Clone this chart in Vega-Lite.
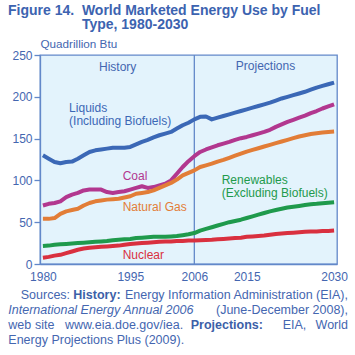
{
  "$schema": "https://vega.github.io/schema/vega-lite/v6.json",
  "width": 297,
  "height": 209,
  "autosize": {"type": "none"},
  "padding": {"left": 40, "top": 55, "right": 18, "bottom": 91},
  "background": "white",
  "title": {
    "text": ["Figure 14.\u00a0\u00a0World Marketed Energy Use by Fuel", "\u200b\u00a0\u00a0\u00a0\u00a0\u00a0\u00a0\u00a0\u00a0\u00a0\u00a0\u00a0\u00a0\u00a0\u00a0\u00a0\u00a0\u00a0\u00a0\u00a0Type, 1980-2030"],
    "anchor": "start",
    "frame": "group",
    "dx": -32,
    "offset": 6,
    "font": "Liberation Sans",
    "fontSize": 14,
    "fontWeight": "bold",
    "color": "#3c63b0",
    "lineHeight": 14.5
  },
  "config": {
    "font": "Liberation Sans",
    "view": {"fill": "#e3f3fc", "stroke": "#6288c9", "strokeWidth": 1.3},
    "axis": {
      "domainColor": "#6288c9",
      "domainWidth": 1.3,
      "tickColor": "#6288c9",
      "tickWidth": 1.3,
      "labelColor": "#4466b0",
      "titleColor": "#4466b0",
      "labelFont": "Liberation Sans",
      "titleFont": "Liberation Sans",
      "labelFontSize": 12,
      "grid": false
    }
  },
  "datasets": {
    "energy": [
      {"fuel":"Liquids","year":1980,"value":130},{"fuel":"Liquids","year":1981,"value":126},{"fuel":"Liquids","year":1982,"value":122},{"fuel":"Liquids","year":1983,"value":120.5},{"fuel":"Liquids","year":1984,"value":122},{"fuel":"Liquids","year":1985,"value":122.5},{"fuel":"Liquids","year":1986,"value":126},{"fuel":"Liquids","year":1987,"value":130},{"fuel":"Liquids","year":1988,"value":134},{"fuel":"Liquids","year":1989,"value":136},{"fuel":"Liquids","year":1990,"value":137},{"fuel":"Liquids","year":1991,"value":138},{"fuel":"Liquids","year":1992,"value":139},{"fuel":"Liquids","year":1993,"value":139},{"fuel":"Liquids","year":1994,"value":139},{"fuel":"Liquids","year":1995,"value":140},{"fuel":"Liquids","year":1996,"value":143},{"fuel":"Liquids","year":1997,"value":146},{"fuel":"Liquids","year":1998,"value":148.5},{"fuel":"Liquids","year":1999,"value":151.5},{"fuel":"Liquids","year":2000,"value":154},{"fuel":"Liquids","year":2001,"value":156},{"fuel":"Liquids","year":2002,"value":158},{"fuel":"Liquids","year":2003,"value":162},{"fuel":"Liquids","year":2004,"value":166},{"fuel":"Liquids","year":2005,"value":169},{"fuel":"Liquids","year":2006,"value":173},{"fuel":"Liquids","year":2007,"value":176},{"fuel":"Liquids","year":2008,"value":176.5},{"fuel":"Liquids","year":2009,"value":173},{"fuel":"Liquids","year":2010,"value":175},{"fuel":"Liquids","year":2011,"value":177},{"fuel":"Liquids","year":2012,"value":179},{"fuel":"Liquids","year":2013,"value":181},{"fuel":"Liquids","year":2014,"value":183},{"fuel":"Liquids","year":2015,"value":185},{"fuel":"Liquids","year":2016,"value":187},{"fuel":"Liquids","year":2017,"value":189},{"fuel":"Liquids","year":2018,"value":191},{"fuel":"Liquids","year":2019,"value":193},{"fuel":"Liquids","year":2020,"value":195.5},{"fuel":"Liquids","year":2021,"value":198},{"fuel":"Liquids","year":2022,"value":200},{"fuel":"Liquids","year":2023,"value":202},{"fuel":"Liquids","year":2024,"value":204},{"fuel":"Liquids","year":2025,"value":206},{"fuel":"Liquids","year":2026,"value":208.5},{"fuel":"Liquids","year":2027,"value":211},{"fuel":"Liquids","year":2028,"value":213},{"fuel":"Liquids","year":2029,"value":215},{"fuel":"Liquids","year":2030,"value":217},
      {"fuel":"Coal","year":1980,"value":70},{"fuel":"Coal","year":1981,"value":72},{"fuel":"Coal","year":1982,"value":73},{"fuel":"Coal","year":1983,"value":75},{"fuel":"Coal","year":1984,"value":80},{"fuel":"Coal","year":1985,"value":83},{"fuel":"Coal","year":1986,"value":85},{"fuel":"Coal","year":1987,"value":88},{"fuel":"Coal","year":1988,"value":89},{"fuel":"Coal","year":1989,"value":89},{"fuel":"Coal","year":1990,"value":89},{"fuel":"Coal","year":1991,"value":86},{"fuel":"Coal","year":1992,"value":85},{"fuel":"Coal","year":1993,"value":86},{"fuel":"Coal","year":1994,"value":87},{"fuel":"Coal","year":1995,"value":89},{"fuel":"Coal","year":1996,"value":91},{"fuel":"Coal","year":1997,"value":93},{"fuel":"Coal","year":1998,"value":91},{"fuel":"Coal","year":1999,"value":92},{"fuel":"Coal","year":2000,"value":94},{"fuel":"Coal","year":2001,"value":96},{"fuel":"Coal","year":2002,"value":100},{"fuel":"Coal","year":2003,"value":108},{"fuel":"Coal","year":2004,"value":116},{"fuel":"Coal","year":2005,"value":123},{"fuel":"Coal","year":2006,"value":129},{"fuel":"Coal","year":2007,"value":134},{"fuel":"Coal","year":2008,"value":137},{"fuel":"Coal","year":2009,"value":139.5},{"fuel":"Coal","year":2010,"value":142},{"fuel":"Coal","year":2011,"value":144},{"fuel":"Coal","year":2012,"value":146},{"fuel":"Coal","year":2013,"value":148.5},{"fuel":"Coal","year":2014,"value":150.5},{"fuel":"Coal","year":2015,"value":152},{"fuel":"Coal","year":2016,"value":154},{"fuel":"Coal","year":2017,"value":156},{"fuel":"Coal","year":2018,"value":158},{"fuel":"Coal","year":2019,"value":160.5},{"fuel":"Coal","year":2020,"value":164},{"fuel":"Coal","year":2021,"value":167},{"fuel":"Coal","year":2022,"value":170},{"fuel":"Coal","year":2023,"value":172.5},{"fuel":"Coal","year":2024,"value":175},{"fuel":"Coal","year":2025,"value":177.5},{"fuel":"Coal","year":2026,"value":180.5},{"fuel":"Coal","year":2027,"value":183},{"fuel":"Coal","year":2028,"value":186},{"fuel":"Coal","year":2029,"value":188.5},{"fuel":"Coal","year":2030,"value":191},
      {"fuel":"Natural Gas","year":1980,"value":54},{"fuel":"Natural Gas","year":1981,"value":54},{"fuel":"Natural Gas","year":1982,"value":55},{"fuel":"Natural Gas","year":1983,"value":60},{"fuel":"Natural Gas","year":1984,"value":63},{"fuel":"Natural Gas","year":1985,"value":64.5},{"fuel":"Natural Gas","year":1986,"value":66},{"fuel":"Natural Gas","year":1987,"value":70},{"fuel":"Natural Gas","year":1988,"value":73},{"fuel":"Natural Gas","year":1989,"value":75},{"fuel":"Natural Gas","year":1990,"value":76},{"fuel":"Natural Gas","year":1991,"value":77},{"fuel":"Natural Gas","year":1992,"value":77.5},{"fuel":"Natural Gas","year":1993,"value":78},{"fuel":"Natural Gas","year":1994,"value":79.5},{"fuel":"Natural Gas","year":1995,"value":81},{"fuel":"Natural Gas","year":1996,"value":84},{"fuel":"Natural Gas","year":1997,"value":85},{"fuel":"Natural Gas","year":1998,"value":86},{"fuel":"Natural Gas","year":1999,"value":88},{"fuel":"Natural Gas","year":2000,"value":91},{"fuel":"Natural Gas","year":2001,"value":94},{"fuel":"Natural Gas","year":2002,"value":97},{"fuel":"Natural Gas","year":2003,"value":101},{"fuel":"Natural Gas","year":2004,"value":106},{"fuel":"Natural Gas","year":2005,"value":109},{"fuel":"Natural Gas","year":2006,"value":112},{"fuel":"Natural Gas","year":2007,"value":116},{"fuel":"Natural Gas","year":2008,"value":118},{"fuel":"Natural Gas","year":2009,"value":120},{"fuel":"Natural Gas","year":2010,"value":122.5},{"fuel":"Natural Gas","year":2011,"value":124.5},{"fuel":"Natural Gas","year":2012,"value":127},{"fuel":"Natural Gas","year":2013,"value":129.5},{"fuel":"Natural Gas","year":2014,"value":132},{"fuel":"Natural Gas","year":2015,"value":134.5},{"fuel":"Natural Gas","year":2016,"value":136.5},{"fuel":"Natural Gas","year":2017,"value":138.5},{"fuel":"Natural Gas","year":2018,"value":140.5},{"fuel":"Natural Gas","year":2019,"value":142.5},{"fuel":"Natural Gas","year":2020,"value":144.5},{"fuel":"Natural Gas","year":2021,"value":146.5},{"fuel":"Natural Gas","year":2022,"value":148.5},{"fuel":"Natural Gas","year":2023,"value":150.5},{"fuel":"Natural Gas","year":2024,"value":152.5},{"fuel":"Natural Gas","year":2025,"value":154},{"fuel":"Natural Gas","year":2026,"value":155.5},{"fuel":"Natural Gas","year":2027,"value":156.5},{"fuel":"Natural Gas","year":2028,"value":157.3},{"fuel":"Natural Gas","year":2029,"value":158},{"fuel":"Natural Gas","year":2030,"value":158.5},
      {"fuel":"Renewables","year":1980,"value":21.5},{"fuel":"Renewables","year":1981,"value":22},{"fuel":"Renewables","year":1982,"value":23},{"fuel":"Renewables","year":1983,"value":23.5},{"fuel":"Renewables","year":1984,"value":24},{"fuel":"Renewables","year":1985,"value":24.5},{"fuel":"Renewables","year":1986,"value":25},{"fuel":"Renewables","year":1987,"value":25.5},{"fuel":"Renewables","year":1988,"value":26},{"fuel":"Renewables","year":1989,"value":26.5},{"fuel":"Renewables","year":1990,"value":27},{"fuel":"Renewables","year":1991,"value":27.5},{"fuel":"Renewables","year":1992,"value":28.5},{"fuel":"Renewables","year":1993,"value":29},{"fuel":"Renewables","year":1994,"value":29.5},{"fuel":"Renewables","year":1995,"value":30},{"fuel":"Renewables","year":1996,"value":31},{"fuel":"Renewables","year":1997,"value":31.5},{"fuel":"Renewables","year":1998,"value":32},{"fuel":"Renewables","year":1999,"value":32.5},{"fuel":"Renewables","year":2000,"value":32.5},{"fuel":"Renewables","year":2001,"value":32.5},{"fuel":"Renewables","year":2002,"value":33},{"fuel":"Renewables","year":2003,"value":33.5},{"fuel":"Renewables","year":2004,"value":34.5},{"fuel":"Renewables","year":2005,"value":35.5},{"fuel":"Renewables","year":2006,"value":37},{"fuel":"Renewables","year":2007,"value":40},{"fuel":"Renewables","year":2008,"value":42},{"fuel":"Renewables","year":2009,"value":44},{"fuel":"Renewables","year":2010,"value":46},{"fuel":"Renewables","year":2011,"value":48},{"fuel":"Renewables","year":2012,"value":50},{"fuel":"Renewables","year":2013,"value":51.5},{"fuel":"Renewables","year":2014,"value":53},{"fuel":"Renewables","year":2015,"value":55},{"fuel":"Renewables","year":2016,"value":57},{"fuel":"Renewables","year":2017,"value":59},{"fuel":"Renewables","year":2018,"value":61},{"fuel":"Renewables","year":2019,"value":63},{"fuel":"Renewables","year":2020,"value":64.5},{"fuel":"Renewables","year":2021,"value":66},{"fuel":"Renewables","year":2022,"value":67.5},{"fuel":"Renewables","year":2023,"value":68.5},{"fuel":"Renewables","year":2024,"value":69.5},{"fuel":"Renewables","year":2025,"value":70.5},{"fuel":"Renewables","year":2026,"value":71.5},{"fuel":"Renewables","year":2027,"value":72},{"fuel":"Renewables","year":2028,"value":72.8},{"fuel":"Renewables","year":2029,"value":73.4},{"fuel":"Renewables","year":2030,"value":74},
      {"fuel":"Nuclear","year":1980,"value":7.5},{"fuel":"Nuclear","year":1981,"value":8.5},{"fuel":"Nuclear","year":1982,"value":10},{"fuel":"Nuclear","year":1983,"value":11},{"fuel":"Nuclear","year":1984,"value":13},{"fuel":"Nuclear","year":1985,"value":15},{"fuel":"Nuclear","year":1986,"value":17},{"fuel":"Nuclear","year":1987,"value":18.5},{"fuel":"Nuclear","year":1988,"value":19.5},{"fuel":"Nuclear","year":1989,"value":20},{"fuel":"Nuclear","year":1990,"value":20.5},{"fuel":"Nuclear","year":1991,"value":21},{"fuel":"Nuclear","year":1992,"value":21.5},{"fuel":"Nuclear","year":1993,"value":22},{"fuel":"Nuclear","year":1994,"value":23},{"fuel":"Nuclear","year":1995,"value":24},{"fuel":"Nuclear","year":1996,"value":24.5},{"fuel":"Nuclear","year":1997,"value":25},{"fuel":"Nuclear","year":1998,"value":25.5},{"fuel":"Nuclear","year":1999,"value":26},{"fuel":"Nuclear","year":2000,"value":26.5},{"fuel":"Nuclear","year":2001,"value":27},{"fuel":"Nuclear","year":2002,"value":27},{"fuel":"Nuclear","year":2003,"value":27.5},{"fuel":"Nuclear","year":2004,"value":27.5},{"fuel":"Nuclear","year":2005,"value":28},{"fuel":"Nuclear","year":2006,"value":28},{"fuel":"Nuclear","year":2007,"value":28.5},{"fuel":"Nuclear","year":2008,"value":28.7},{"fuel":"Nuclear","year":2009,"value":29},{"fuel":"Nuclear","year":2010,"value":29.5},{"fuel":"Nuclear","year":2011,"value":30},{"fuel":"Nuclear","year":2012,"value":30.5},{"fuel":"Nuclear","year":2013,"value":31},{"fuel":"Nuclear","year":2014,"value":31.5},{"fuel":"Nuclear","year":2015,"value":32.5},{"fuel":"Nuclear","year":2016,"value":33},{"fuel":"Nuclear","year":2017,"value":33.5},{"fuel":"Nuclear","year":2018,"value":34},{"fuel":"Nuclear","year":2019,"value":35},{"fuel":"Nuclear","year":2020,"value":36},{"fuel":"Nuclear","year":2021,"value":36.5},{"fuel":"Nuclear","year":2022,"value":37},{"fuel":"Nuclear","year":2023,"value":37.5},{"fuel":"Nuclear","year":2024,"value":38},{"fuel":"Nuclear","year":2025,"value":38.5},{"fuel":"Nuclear","year":2026,"value":39},{"fuel":"Nuclear","year":2027,"value":39},{"fuel":"Nuclear","year":2028,"value":39.5},{"fuel":"Nuclear","year":2029,"value":39.5},{"fuel":"Nuclear","year":2030,"value":40}
    ]
  },
  "encoding": {
    "x": {"field": "year", "type": "quantitative",
      "scale": {"domain": [1979.5, 2030.5], "nice": false, "zero": false},
      "axis": {"values": [1980, 1995, 2006, 2015, 2030], "format": "d", "title": null, "ticks": false, "labelPadding": 7, "labelFlush": false, "labelOverlap": false}},
    "y": {"field": "value", "type": "quantitative",
      "scale": {"domain": [0, 250], "nice": false},
      "axis": {"values": [0, 50, 100, 150, 200, 250], "title": "Quadrillion Btu", "titleAngle": 0, "titleAlign": "left", "titleBaseline": "alphabetic", "titleX": 0, "titleY": -8, "titleFontSize": 11.7, "titleFontWeight": "normal", "tickSize": 6, "labelPadding": 2, "labelOverlap": false}}
  },
  "layer": [
    {
      "data": {"values": [{"year": 2006, "value": 0, "value2": 250}]},
      "mark": {"type": "rule", "color": "#6288c9", "strokeWidth": 1.3},
      "encoding": {
        "y2": {"field": "value2"}
      }
    },
    {
      "data": {"name": "energy"},
      "mark": {"type": "line", "strokeWidth": 4, "strokeJoin": "round"},
      "encoding": {
        "color": {"field": "fuel", "type": "nominal", "legend": null,
          "scale": {"domain": ["Liquids", "Coal", "Natural Gas", "Renewables", "Nuclear"], "range": ["#3b68b6", "#b2378f", "#e27d37", "#1f9a4c", "#d9303f"]}}
      }
    },
    {
      "data": {"values": [
        {"fuel": "Liquids", "year": 1984.5, "value": 187, "label": "Liquids"},
        {"fuel": "Liquids", "year": 1984.5, "value": 171, "label": "(Including Biofuels)"},
        {"fuel": "Coal", "year": 1993.7, "value": 105.6, "label": "Coal"},
        {"fuel": "Natural Gas", "year": 1993.7, "value": 68.5, "label": "Natural Gas"},
        {"fuel": "Renewables", "year": 2010.7, "value": 100.5, "label": "Renewables"},
        {"fuel": "Renewables", "year": 2010.7, "value": 84.6, "label": "(Excluding Biofuels)"},
        {"fuel": "Nuclear", "year": 1993.7, "value": 10.8, "label": "Nuclear"}
      ]},
      "mark": {"type": "text", "align": "left", "baseline": "middle", "fontSize": 12, "font": "Liberation Sans"},
      "encoding": {
        "text": {"field": "label"},
        "color": {"field": "fuel", "type": "nominal", "legend": null}
      }
    },
    {
      "data": {"values": [
        {"year": 1992.84, "value": 236, "label": "History"},
        {"year": 2018.22, "value": 236.8, "label": "Projections"}
      ]},
      "mark": {"type": "text", "align": "center", "baseline": "middle", "fontSize": 12, "font": "Liberation Sans", "color": "#4466b0"},
      "encoding": {"text": {"field": "label"}}
    },
    {
      "data": {"values": [
        {"year": 1976.19, "value": -37.1, "label": "Sources:"},
        {"year": 1974.06, "value": -73.0, "label": "web"},
        {"year": 1978.64, "value": -73.0, "label": "site"},
        {"year": 1983.79, "value": -73.0, "label": "www.eia.doe.gov/iea."},
        {"year": 2021.18, "value": -73.0, "label": "EIA,"},
        {"year": 1974.06, "value": -90.9, "label": "Energy Projections Plus (2009)."}
      ]},
      "mark": {"type": "text", "align": "left", "baseline": "middle", "fontSize": 12.5, "font": "Liberation Sans", "color": "#4466b0"},
      "encoding": {"text": {"field": "label"}}
    },
    {
      "data": {"values": [
        {"year": 2032.39, "value": -37.1, "label": "Energy Information Administration (EIA),"},
        {"year": 2032.39, "value": -55.0, "label": "(June-December 2008),"},
        {"year": 2032.39, "value": -73.0, "label": "World"}
      ]},
      "mark": {"type": "text", "align": "right", "baseline": "middle", "fontSize": 12.5, "font": "Liberation Sans", "color": "#4466b0"},
      "encoding": {"text": {"field": "label"}}
    },
    {
      "data": {"values": [
        {"year": 1985.22, "value": -37.1, "label": "History:"},
        {"year": 2005.38, "value": -73.0, "label": "Projections:"}
      ]},
      "mark": {"type": "text", "align": "left", "baseline": "middle", "fontSize": 12.5, "fontWeight": "bold", "font": "Liberation Sans", "color": "#3c5fa8"},
      "encoding": {"text": {"field": "label"}}
    },
    {
      "data": {"values": [
        {"year": 1974.06, "value": -55.0, "label": "International Energy Annual 2006"}
      ]},
      "mark": {"type": "text", "align": "left", "baseline": "middle", "fontSize": 12.5, "fontStyle": "italic", "font": "Liberation Sans", "color": "#4466b0"},
      "encoding": {"text": {"field": "label"}}
    }
  ]
}
